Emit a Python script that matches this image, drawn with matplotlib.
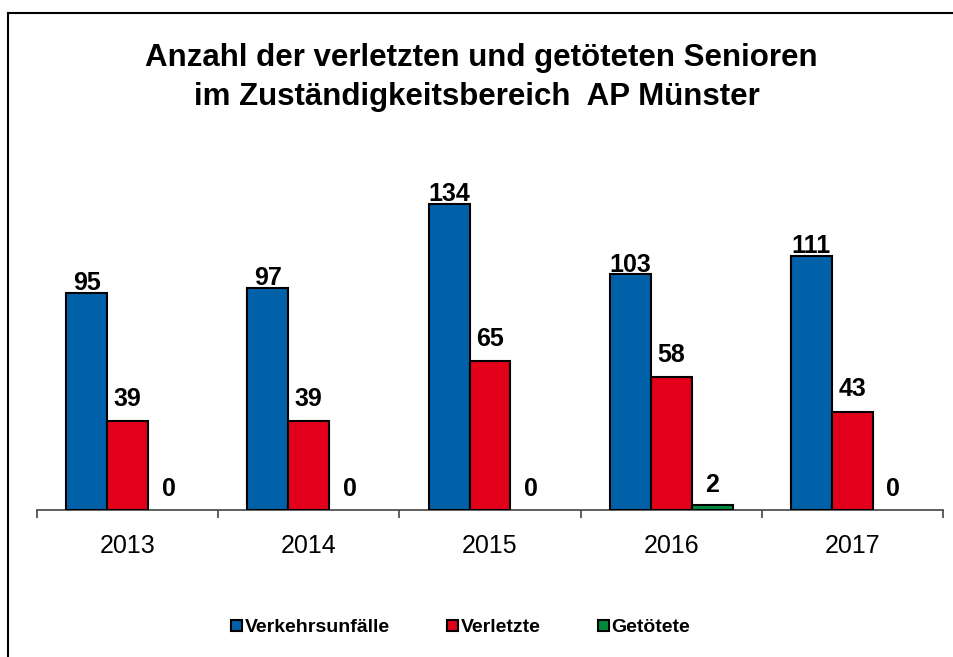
import matplotlib.pyplot as plt
import numpy as np
from matplotlib.lines import Line2D

plt.rcParams['font.family'] = ['Liberation Sans', 'DejaVu Sans']

jahre = ['2013', '2014', '2015', '2016', '2017']
unfaelle = [95, 97, 134, 103, 111]
verletzte = [39, 39, 65, 58, 43]
getoetete = [0, 0, 0, 2, 0]

serien = ['Verkehrsunfälle', 'Verletzte', 'Getötete']
farben = ['#0060A8', '#E2001A', '#00893D']
# abstand der beschriftung ueber dem balken (pt)
abstand = [2, 11, 10]

fig = plt.figure(figsize=(9.54, 6.57), dpi=100)
ax = fig.add_axes([37 / 954, 147 / 657, 906 / 954, 343 / 657])

x = np.arange(len(jahre)) + 0.5
w = 0.226
for i, (werte, name) in enumerate(zip([unfaelle, verletzte, getoetete], serien)):
    pos = x + (i - 1) * w
    bars = ax.bar(pos, werte, w, color=farben[i], edgecolor='black', linewidth=1.5,
                  label=name, zorder=3)
    for b, v in zip(bars, werte):
        if v == 0:
            b.set_edgecolor('none')
    for xp, v in zip(pos, werte):
        ax.annotate(str(v), (xp, v), xytext=(0, abstand[i]), textcoords='offset points',
                    ha='center', va='baseline', fontsize=18, fontweight='bold')

ax.set_xlim(0, 5)
ax.set_ylim(0, 150)
for s in ['left', 'right', 'top']:
    ax.spines[s].set_visible(False)
ax.spines['bottom'].set_color('#444444')
ax.spines['bottom'].set_linewidth(1.2)
ax.set_yticks([])
ax.set_xticks(x)
ax.set_xticklabels(jahre, fontsize=18)
ax.tick_params(axis='x', which='major', length=0, pad=17)
ax.set_xticks(np.arange(0, 6), minor=True)
ax.tick_params(axis='x', which='minor', length=6, width=1.2, color='#444444')

fig.text(0.505, 1 - 58 / 657, 'Anzahl der verletzten und getöteten Senioren',
         ha='center', va='center', fontsize=22.5, fontweight='bold')
fig.text(0.5, 1 - 97 / 657, 'im Zuständigkeitsbereich  AP Münster',
         ha='center', va='center', fontsize=22.5, fontweight='bold')

leg = fig.legend(loc='center', bbox_to_anchor=(0.483, 29 / 657), ncol=3, frameon=False,
                 prop={'size': 14, 'weight': 'bold'}, handlelength=0.55, handleheight=0.55,
                 handletextpad=0.15, columnspacing=2.95)
for h in leg.legend_handles:
    h.set_edgecolor('black')
    h.set_linewidth(1.5)

# rahmen links und oben
fig.add_artist(Line2D([8.5 / 954, 8.5 / 954], [0, 1 - 12.5 / 657], color='black', lw=1.5,
                      transform=fig.transFigure))
fig.add_artist(Line2D([8.5 / 954, 1], [1 - 12.5 / 657, 1 - 12.5 / 657], color='black', lw=1.5,
                      transform=fig.transFigure))

fig.savefig('out.png', dpi=100)
